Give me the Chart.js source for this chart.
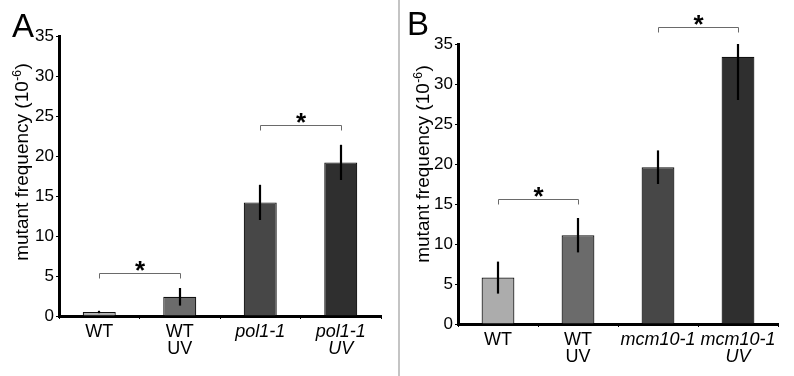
<!DOCTYPE html>
<html><head><meta charset="utf-8">
<script src="https://cdn.jsdelivr.net/npm/chart.js@4.4.1/dist/chart.umd.min.js"></script>
<style>
html,body{margin:0;padding:0;background:#fff;}
#wrap{position:relative;width:794px;height:376px;overflow:hidden;background:#fff;}
#cA{position:absolute;left:0;top:0;}
#cB{position:absolute;left:400px;top:0;}
#sep{position:absolute;left:398px;top:0;width:2px;height:376px;background:#c4c4c4;}
</style></head><body>
<div id="wrap"><canvas id="cA" width="398" height="376"></canvas><div id="sep"></div><canvas id="cB" width="394" height="376"></canvas></div>
<script>
// ---- data ----
const categoriesA = [['WT'], ['WT', 'UV'], ['pol1-1'], ['pol1-1', 'UV']];
const valuesA = [0.5, 2.4, 14.2, 19.2];
const errorsA = [0.15, 1.1, 2.2, 2.2];
const italicA = [false, false, true, true];
const bracketsA = [[0, 1, 5.4], [2, 3, 23.9]];

const categoriesB = [['WT'], ['WT', 'UV'], ['mcm10-1'], ['mcm10-1', 'UV']];
const valuesB = [5.8, 11.1, 19.6, 33.4];
const errorsB = [2.0, 2.15, 2.1, 5.4];
const italicB = [false, false, true, true];
const bracketsB = [[0, 1, 15.6], [2, 3, 37.1]];

const yMin = 0, yMax = 35, yStep = 5;
const yTitle = 'mutant frequency (10';
const yTitleSup = '-6';
const yTitleEnd = ')';

const barColors = ['#acacac', '#6b6b6b', '#474747', '#2f2f2f'];
const FONT = '"Liberation Sans", Arial, Helvetica, sans-serif';

const overlay = {
  id: 'overlay',
  afterDatasetsDraw(chart, args, o) {
    const {ctx, chartArea} = chart;
    const y = chart.scales.y;
    const meta = chart.getDatasetMeta(0);
    // error bars (clipped to plot area)
    ctx.save();
    ctx.beginPath();
    ctx.rect(chartArea.left, chartArea.top, chartArea.right - chartArea.left, chartArea.bottom - chartArea.top);
    ctx.clip();
    ctx.strokeStyle = '#000';
    ctx.lineWidth = 2.2;
    o.values.forEach((v, i) => {
      const px = Math.round(meta.data[i].x);
      ctx.beginPath();
      ctx.moveTo(px, y.getPixelForValue(v + o.errors[i]));
      ctx.lineTo(px, y.getPixelForValue(v - o.errors[i]));
      ctx.stroke();
    });
    ctx.restore();
    // significance brackets
    ctx.save();
    ctx.strokeStyle = '#6a6a6a';
    ctx.lineWidth = 1;
    o.brackets.forEach(b => {
      const x1 = Math.round(meta.data[b[0]].x) + 0.5;
      const x2 = Math.round(meta.data[b[1]].x) + 0.5;
      const yy = Math.round(y.getPixelForValue(b[2])) + 0.5;
      ctx.beginPath();
      ctx.moveTo(x1, yy + 5); ctx.lineTo(x1, yy); ctx.lineTo(x2, yy); ctx.lineTo(x2, yy + 5);
      ctx.stroke();
      ctx.fillStyle = '#000';
      ctx.font = 'bold 26px ' + FONT;
      ctx.textAlign = 'center';
      ctx.textBaseline = 'alphabetic';
      const m = ctx.measureText('*');
      const cy = yy - 8;
      ctx.fillText('*', (x1 + x2) / 2, cy + (m.actualBoundingBoxAscent - m.actualBoundingBoxDescent) / 2);
    });
    ctx.restore();
  },
  afterDraw(chart, args, o) {
    const ctx = chart.ctx;
    // panel letter
    ctx.save();
    ctx.fillStyle = '#000';
    ctx.font = '33px ' + FONT;
    ctx.textAlign = 'left';
    ctx.textBaseline = 'alphabetic';
    ctx.fillText(o.letter, o.letterX, o.letterY);
    ctx.restore();
    // y axis title (rotated)
    ctx.save();
    ctx.fillStyle = '#000';
    ctx.translate(o.titleX, o.titleY);
    ctx.rotate(-Math.PI / 2);
    ctx.textBaseline = 'alphabetic';
    ctx.textAlign = 'left';
    const big = '19px ' + FONT, small = '12px ' + FONT;
    ctx.font = big; const w1 = ctx.measureText(yTitle).width; const w3 = ctx.measureText(yTitleEnd).width;
    ctx.font = small; const w2 = ctx.measureText(yTitleSup).width;
    let x0 = -(w1 + w2 + w3 + 1) / 2;
    ctx.font = big; ctx.fillText(yTitle, x0, 0);
    ctx.font = small; ctx.fillText(yTitleSup, x0 + w1 + 0.5, -7);
    ctx.font = big; ctx.fillText(yTitleEnd, x0 + w1 + w2 + 1, 0);
    ctx.restore();
  }
};

function makeChart(id, cats, vals, errs, italics, brackets, geo) {
  return new Chart(document.getElementById(id), {
    type: 'bar',
    data: {
      labels: cats,
      datasets: [{
        data: vals,
        backgroundColor: barColors,
        borderColor: '#111',
        borderWidth: 1.2,
        barPercentage: 0.41,
        categoryPercentage: 1
      }]
    },
    options: {
      responsive: false,
      animation: false,
      devicePixelRatio: 1,
      layout: {padding: {top: geo.top, right: geo.right, left: 0, bottom: 0}},
      plugins: {
        legend: {display: false},
        tooltip: {enabled: false},
        overlay: {values: vals, errors: errs, brackets: brackets, letter: geo.letter, letterX: geo.letterX, letterY: geo.letterY, titleX: geo.titleX, titleY: geo.titleY}
      },
      scales: {
        x: {
          type: 'category',
          offset: true,
          afterFit(s) { s.height = geo.xh; },
          grid: {display: true, drawOnChartArea: false, drawTicks: true, tickLength: 3, color: '#000', lineWidth: 1, offset: true},
          border: {display: true, width: 3, color: '#000'},
          ticks: {
            color: '#000', padding: 5, maxRotation: 0, autoSkip: false,
            font: (c) => ({family: FONT, size: 18, lineHeight: '16.5px', style: italics[c.index] ? 'italic' : 'normal'})
          }
        },
        y: {
          min: yMin, max: yMax,
          afterFit(s) { s.width = geo.yw; },
          grid: {display: true, drawOnChartArea: false, drawTicks: true, tickLength: 3, color: '#000', lineWidth: 1},
          border: {display: true, width: 3, color: '#000'},
          ticks: {stepSize: yStep, color: '#000', padding: 2, font: {family: FONT, size: 17}}
        }
      }
    },
    plugins: [overlay]
  });
}

makeChart('cA', categoriesA, valuesA, errorsA, italicA, bracketsA,
  {top: 36, right: 17, xh: 60, yw: 59, letter: 'A', letterX: 12, letterY: 37, titleX: 28, titleY: 162});
makeChart('cB', categoriesB, valuesB, errorsB, italicB, bracketsB,
  {top: 44, right: 16, xh: 52, yw: 58, letter: 'B', letterX: 7, letterY: 35, titleX: 29, titleY: 164});
</script>
</body></html>
